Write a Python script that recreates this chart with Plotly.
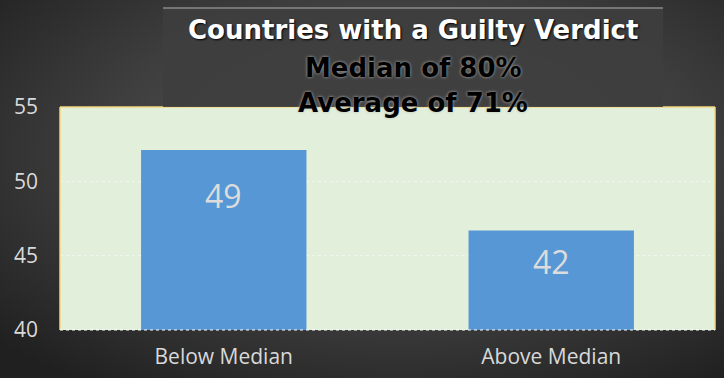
import base64
import plotly.graph_objects as go

categories = ["Below Median", "Above Median"]
bar_heights = [52.1, 46.7]
bar_labels = ["49", "42"]
label_offsets = [-45, -31]
y_ticks = [40, 45, 50, 55]
title_lines = ["Countries with a Guilty Verdict", "Median of 80%", "Average of 71%"]

W, H = 724, 378

svg = f'''<svg xmlns="http://www.w3.org/2000/svg" width="{W}" height="{H}" viewBox="0 0 {W} {H}" preserveAspectRatio="none">
<defs>
<radialGradient id="g" cx="0.55" cy="0.4" r="0.75">
<stop offset="0" stop-color="#5a5a5a"/>
<stop offset="0.55" stop-color="#3e3e3e"/>
<stop offset="1" stop-color="#202020"/>
</radialGradient>
</defs>
<rect width="{W}" height="{H}" fill="url(#g)"/>
</svg>'''
bg_src = "data:image/svg+xml;base64," + base64.b64encode(svg.encode()).decode()

fig = go.Figure()
fig.add_trace(go.Bar(
    x=categories, y=bar_heights,
    marker=dict(color="#5797d6", line=dict(width=0)),
    width=0.505,
    hoverinfo="skip",
))

for cat, h, lab, off in zip(categories, bar_heights, bar_labels, label_offsets):
    fig.add_annotation(x=cat, y=h, text=lab, showarrow=False, yanchor="middle",
                       yshift=off, font=dict(family="Open Sans", size=32, color="#dcdcdc"))

fig.update_layout(
    width=W, height=H,
    margin=dict(l=60, r=9, t=107, b=48),
    paper_bgcolor="#333333",
    plot_bgcolor="#e2efda",
    showlegend=False,
    images=[dict(source=bg_src, xref="paper", yref="paper", x=-60/655, y=1+107/223,
                 sizex=W/655, sizey=H/223, xanchor="left", yanchor="top",
                 sizing="stretch", layer="below")],
    xaxis=dict(showgrid=False, showline=False, zeroline=False,
               tickfont=dict(family="Open Sans", size=21, color="#d9d9d9"),
               ticklabelstandoff=12),
    yaxis=dict(range=[40, 55], tickvals=y_ticks, showline=False, zeroline=False,
               gridcolor="rgba(255,255,255,0.45)", griddash="dot", gridwidth=1,
               tickfont=dict(family="Open Sans", size=21, color="#d9d9d9"),
               ticklabelstandoff=21),
)

# plot-area fill (drawn above the background image)
fig.add_shape(type="rect", xref="x domain", yref="y domain", x0=0, x1=1, y0=0, y1=1,
              fillcolor="#e2efda", line=dict(width=0), layer="below")

# plot-area border: yellow left/top/right, dotted white bottom
for x0, x1, y0, y1 in [(0, 0, 0, 1), (1, 1, 0, 1), (0, 1, 1, 1)]:
    fig.add_shape(type="line", xref="x domain", yref="y domain", x0=x0, x1=x1, y0=y0, y1=y1,
                  line=dict(color="#f2d680", width=1.5))
fig.add_shape(type="line", xref="x domain", yref="y domain", x0=0, x1=1, y0=0, y1=0,
              line=dict(color="#ffffff", width=1, dash="dot"))

# title box
fig.add_shape(type="rect", xref="paper", yref="paper",
              x0=(163-60)/655, x1=(663-60)/655, y0=1, y1=1+(107-8)/223,
              fillcolor="rgba(62,62,62,0.9)", line=dict(width=0), layer="above")
fig.add_shape(type="line", xref="paper", yref="paper",
              x0=(163-60)/655, x1=(663-60)/655, y0=1+(107-8)/223, y1=1+(107-8)/223,
              line=dict(color="#8a8a8a", width=1.5), layer="above")

title_y = [30, 68, 103]
title_colors = ["#ffffff", "#000000", "#000000"]
title_shadows = ["1px 1px 2px #000000", "0px 0px 3px #bbbbbb", "0px 0px 3px #bbbbbb"]
for txt, ty, col, sh in zip(title_lines, title_y, title_colors, title_shadows):
    fig.add_annotation(xref="paper", yref="paper", x=(413-60)/655, y=1+(107-ty)/223,
                       text=f"<b>{txt}</b>", showarrow=False, xanchor="center", yanchor="middle",
                       font=dict(family="DejaVu Sans", size=26, color=col, shadow=sh))

fig.write_html("out.html")
